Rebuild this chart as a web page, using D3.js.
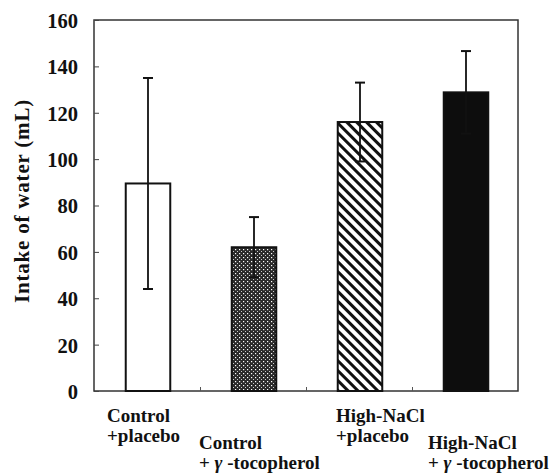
<!DOCTYPE html>
<html>
<head>
<meta charset="utf-8">
<script src="https://cdn.jsdelivr.net/npm/d3@7"></script>
<style>
  body { margin: 0; background: #fff; }
  text { font-family: "Liberation Serif", "Times New Roman", serif; font-weight: bold; fill: #111; }
</style>
</head>
<body>
<script>
// data
var groups = ["Control +placebo", "Control +γ-tocopherol", "High-NaCl +placebo", "High-NaCl +γ-tocopherol"];
var labelTop = ["Control", "Control", "High-NaCl", "High-NaCl"];
var labelBottom = ["+placebo", "+γ", "+placebo", "+γ"];
var means = [89.5, 62, 116, 128.8];
var errs = [45.5, 13, 17, 17.8];
var yTicks = [0, 20, 40, 60, 80, 100, 120, 140, 160];

var W = 552, H = 475;
var margin = {left: 94, top: 20, right: 34, bottom: 84};
var w = W - margin.left - margin.right, h = H - margin.top - margin.bottom;

var svg = d3.select("body").append("svg").attr("width", W).attr("height", H);

var defs = svg.append("defs");
// fine crosshatch for bar 2
var p1 = defs.append("pattern").attr("id", "cross").attr("patternUnits", "userSpaceOnUse")
  .attr("width", 4).attr("height", 4);
p1.append("rect").attr("width", 4).attr("height", 4).attr("fill", "#2a2a2a");
p1.append("rect").attr("x", 1).attr("y", 1).attr("width", 1.2).attr("height", 1.2).attr("fill", "#fff");
p1.append("rect").attr("x", 3).attr("y", 3).attr("width", 1.2).attr("height", 1.2).attr("fill", "#ccc");
// diagonal stripes for bar 3 (top-left to bottom-right)
var p2 = defs.append("pattern").attr("id", "diag").attr("patternUnits", "userSpaceOnUse")
  .attr("width", 7).attr("height", 7).attr("patternTransform", "rotate(-45)");
p2.append("rect").attr("width", 7).attr("height", 7).attr("fill", "#fff");
p2.append("rect").attr("width", 3).attr("height", 7).attr("fill", "#111");

var fills = ["#fff", "url(#cross)", "url(#diag)", "#0d0d0d"];

var g = svg.append("g").attr("transform", "translate(" + margin.left + "," + margin.top + ")");

var x = d3.scaleBand().domain(groups).range([0, w]).paddingInner(0.58).paddingOuter(0.29);
var y = d3.scaleLinear().domain([0, 160]).range([h, 0]);

// frame
g.append("rect").attr("width", w).attr("height", h)
  .attr("fill", "none").attr("stroke", "#333").attr("stroke-width", 1.5);

var yAxis = g.append("g").call(d3.axisLeft(y).tickValues(yTicks).tickSize(-5).tickPadding(16));
yAxis.select(".domain").remove();
yAxis.selectAll(".tick line").attr("stroke", "#444");
yAxis.selectAll("text").style("font-size", "20.5px").attr("fill", "#111")
  .style("font-family", "'Liberation Serif', serif").style("font-weight", "bold").attr("dy", "0.36em");

var xTickScale = d3.scaleLinear().domain([0, groups.length]).range([0, w]);
var xAxis = g.append("g").attr("transform", "translate(0," + h + ")")
  .call(d3.axisBottom(xTickScale).tickValues([1, 2, 3]).tickSize(-4).tickFormat(""));
xAxis.select(".domain").remove();
xAxis.selectAll(".tick line").attr("stroke", "#555");

// bars
g.selectAll(".bar").data(groups).enter().append("rect")
  .attr("x", function(d){ return x(d) + 1; })
  .attr("y", function(d, i){ return y(means[i]); })
  .attr("width", x.bandwidth())
  .attr("height", function(d, i){ return h - y(means[i]); })
  .attr("fill", function(d, i){ return fills[i]; })
  .attr("stroke", "#111").attr("stroke-width", 2);

// error bars
var eb = g.selectAll(".err").data(groups).enter().append("g");
eb.append("line")
  .attr("x1", function(d){ return x(d) + 1 + x.bandwidth() / 2; })
  .attr("x2", function(d){ return x(d) + 1 + x.bandwidth() / 2; })
  .attr("y1", function(d, i){ return y(means[i] - errs[i]); })
  .attr("y2", function(d, i){ return y(means[i] + errs[i]); })
  .attr("stroke", "#111").attr("stroke-width", 1.8);
[1, -1].forEach(function(s){
  eb.append("line")
    .attr("x1", function(d){ return x(d) + 1 + x.bandwidth() / 2 - 5; })
    .attr("x2", function(d){ return x(d) + 1 + x.bandwidth() / 2 + 5; })
    .attr("y1", function(d, i){ return y(means[i] + s * errs[i]); })
    .attr("y2", function(d, i){ return y(means[i] + s * errs[i]); })
    .attr("stroke", "#111").attr("stroke-width", 2);
});

// category labels, staggered in two rows
var labelDx = [13, -1, 30, 16];
var labelRow = [0, 1, 0, 1];
var labels = g.selectAll(".lab").data(groups).enter().append("text")
  .attr("transform", function(d, i){
    return "translate(" + (xTickScale(i) + labelDx[i]) + "," + (h + 31 + labelRow[i] * 27) + ")";
  })
  .style("font-size", "19px");
labels.append("tspan").attr("x", 0).attr("y", 0).text(function(d, i){ return labelTop[i]; });
labels.each(function(d, i){
  var t = d3.select(this).append("tspan").attr("x", 0).attr("y", 20);
  if (labelBottom[i] === "+γ") {
    t.text("+ ");
    d3.select(this).append("tspan").style("font-style", "italic").text("γ");
    d3.select(this).append("tspan").text(" -tocopherol");
  } else {
    t.text(labelBottom[i]);
  }
});

// y title
svg.append("text")
  .attr("transform", "translate(29," + 201 + ") rotate(-90)")
  .attr("text-anchor", "middle")
  .style("font-size", "21px").style("letter-spacing", "0.8px")
  .text("Intake of water (mL)");
</script>
</body>
</html>
